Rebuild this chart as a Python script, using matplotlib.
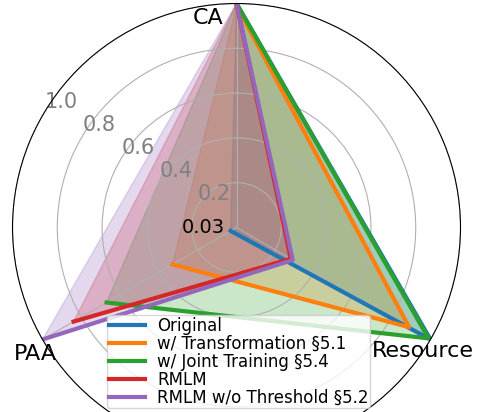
import numpy as np
import matplotlib
matplotlib.use('Agg')
import matplotlib.pyplot as plt

categories = ['CA', 'Resource', 'PAA']
series_names = ['Original', 'w/ Transformation §5.1', 'w/ Joint Training §5.4',
                'RMLM', 'RMLM w/o Threshold §5.2']
original = [1.0, 1.0, 0.03]
transformation = [0.99, 0.89, 0.33]
joint_training = [1.0, 0.99, 0.67]
rmlm = [1.0, 0.28, 0.84]
rmlm_wo_threshold = [1.0, 0.29, 1.0]
series_values = [original, transformation, joint_training, rmlm, rmlm_wo_threshold]
colors = ['#1f77b4', '#ff7f0e', '#2ca02c', '#d62728', '#9467bd']
rticks = [0.2, 0.4, 0.6, 0.8, 1.0]
rtick_labels = ['0.2', '0.4', '0.6', '0.8', '1.0']
highlight_value = 0.03

fig = plt.figure(figsize=(4.81, 4.12), dpi=100)
ax = fig.add_axes([0.026, -0.0959, 0.9314, 1.0874], projection='polar')
ax.set_theta_offset(np.pi / 2)
ax.set_theta_direction(-1)

n = len(categories)
angles = [i * 2 * np.pi / n for i in range(n)]
angles_closed = angles + angles[:1]

for name, vals, c in zip(series_names, series_values, colors):
    ax.plot(angles, vals, color=c, linewidth=3, label=name)
    ax.fill(angles_closed, list(vals) + vals[:1], color=c, alpha=0.25)

ax.set_ylim(0, 1.0)
ax.set_xticks(angles)
ax.set_xticklabels([])
ax.set_yticks(rticks)
ax.set_yticklabels(rtick_labels, color='grey', fontsize=15)
ax.set_rlabel_position(-59)

# axis labels
label_pos = [(-7.85, 0.915), (124.95, 1.013), (236.7, 1.074)]
for lab, (th, r) in zip(categories, label_pos):
    ax.text(np.deg2rad(th), r, lab, fontsize=16, ha='center', va='baseline',
            clip_on=False)

ax.text(np.deg2rad(270), 0.05, f'{highlight_value}', fontsize=14, color='black',
        ha='right', va='center')

fig.legend(loc='upper left', bbox_to_anchor=(0.2225, 0.2354), fontsize=12,
           borderpad=0.1, labelspacing=0.0, handlelength=2.2, handletextpad=0.7,
           borderaxespad=0)

fig.savefig('out.png', dpi=100)
